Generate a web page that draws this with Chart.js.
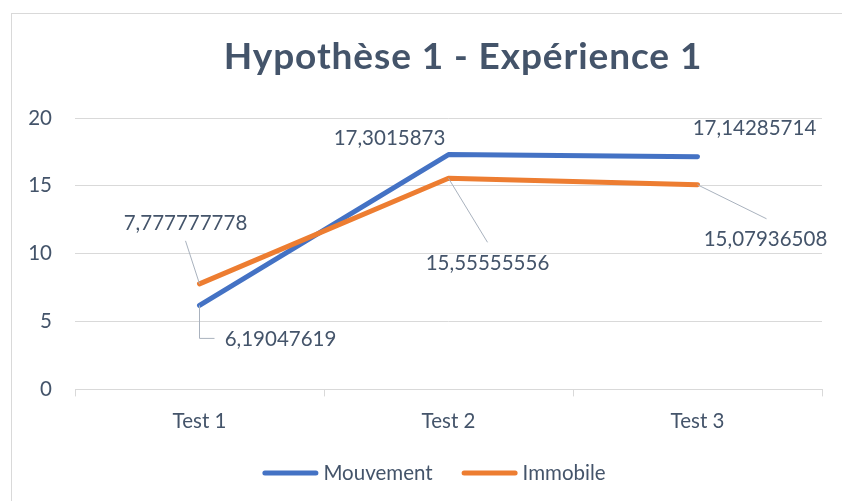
<!DOCTYPE html>
<html>
<head>
<meta charset="utf-8">
<script src="https://cdn.jsdelivr.net/npm/chart.js@4.4.0/dist/chart.umd.min.js"></script>
<style>
  html, body { margin: 0; padding: 0; background: #fff; }
  #wrap { width: 842px; height: 501px; }
</style>
</head>
<body>
<div id="wrap"><canvas id="chart" width="842" height="501"></canvas></div>
<script>
// data
const categories = ['Test 1', 'Test 2', 'Test 3'];
const seriesNames = ['Mouvement', 'Immobile'];
const mouvement = [6.19047619, 17.3015873, 17.14285714];
const immobile = [7.777777778, 15.55555556, 15.07936508];
const yTicks = [0, 5, 10, 15, 20];
const chartTitle = 'Hypothèse 1 - Expérience 1';

const seriesColors = ['#4472C4', '#ED7D31'];
const textColor = '#44546A';
const gridColor = '#D9D9D9';
const leaderColor = '#A9B2BE';
const fontFamily = 'Lato, "Noto Sans", sans-serif';
const labelSize = 20.5;

// where each data label sits relative to its point (px), plus optional leader line
const labelPlacement = [
    [
        { dx: 81, dy: 33, leader: [[0, 0], [0, 33], [15, 33]] },
        { dx: -59, dy: -17 },
        { dx: 57, dy: -29 }
    ],
    [
        { dx: -14, dy: -61, leader: [[0, 0], [-14, -43]] },
        { dx: 39, dy: 84, leader: [[0, 0], [39, 64]] },
        { dx: 68, dy: 54, leader: [[0, 0], [69, 34]] }
    ]
];

const fmt = v => String(v).replace('.', ',');

const decor = {
    id: 'decor',
    beforeDraw(chart) {
        const ctx = chart.ctx;
        ctx.save();
        ctx.fillStyle = '#fff';
        ctx.fillRect(0, 0, chart.width, chart.height);
        ctx.strokeStyle = gridColor;
        ctx.lineWidth = 1;
        ctx.strokeRect(11.5, 13.5, chart.width + 20, chart.height + 20);
        ctx.restore();
    },
    afterDatasetsDraw(chart) {
        const ctx = chart.ctx;
        ctx.save();
        ctx.font = labelSize + 'px ' + fontFamily;
        ctx.textAlign = 'center';
        ctx.textBaseline = 'alphabetic';
        chart.data.datasets.forEach((ds, di) => {
            const meta = chart.getDatasetMeta(di);
            meta.data.forEach((pt, i) => {
                const place = labelPlacement[di][i];
                if (place.leader) {
                    ctx.strokeStyle = leaderColor;
                    ctx.lineWidth = 1;
                    ctx.beginPath();
                    place.leader.forEach(([lx, ly], k) => {
                        if (k === 0) ctx.moveTo(pt.x + lx, pt.y + ly);
                        else ctx.lineTo(pt.x + lx, pt.y + ly);
                    });
                    ctx.stroke();
                }
                ctx.fillStyle = textColor;
                ctx.fillText(fmt(ds.data[i]), pt.x + place.dx, pt.y + place.dy + labelSize * 0.358);
            });
        });
        ctx.restore();
    },
    afterDraw(chart) {
        const ctx = chart.ctx;
        ctx.save();
        // title
        ctx.fillStyle = textColor;
        ctx.font = 'bold 37px ' + fontFamily;
        ctx.letterSpacing = '0.9px';
        ctx.textAlign = 'center';
        ctx.textBaseline = 'alphabetic';
        ctx.fillText(chartTitle, 463, 69);
        ctx.letterSpacing = '0px';

        // legend
        ctx.font = labelSize + 'px ' + fontFamily;
        ctx.textAlign = 'left';
        const lineLen = 56, gap = 5, itemGap = 29, ly = 473;
        const widths = seriesNames.map(n => lineLen + gap + ctx.measureText(n).width);
        const total = widths.reduce((a, b) => a + b, 0) + itemGap * (seriesNames.length - 1);
        let x = 434 - total / 2;
        seriesNames.forEach((name, i) => {
            ctx.strokeStyle = seriesColors[i];
            ctx.lineWidth = 5;
            ctx.lineCap = 'round';
            ctx.beginPath();
            ctx.moveTo(x + 2.5, ly);
            ctx.lineTo(x + lineLen - 2.5, ly);
            ctx.stroke();
            ctx.fillStyle = textColor;
            ctx.fillText(name, x + lineLen + gap, ly + labelSize * 0.358);
            x += widths[i] + itemGap;
        });
        ctx.restore();
    }
};

new Chart(document.getElementById('chart').getContext('2d'), {
    type: 'line',
    data: {
        labels: categories,
        datasets: [
            {
                label: seriesNames[0],
                data: mouvement,
                borderColor: seriesColors[0],
                backgroundColor: seriesColors[0],
                borderWidth: 5,
                order: 2
            },
            {
                label: seriesNames[1],
                data: immobile,
                borderColor: seriesColors[1],
                backgroundColor: seriesColors[1],
                borderWidth: 5,
                order: 1
            }
        ]
    },
    options: {
        responsive: false,
        animation: false,
        devicePixelRatio: 1,
        layout: { padding: { top: 118, right: 20, left: 0, bottom: 54 } },
        elements: {
            point: { radius: 0, hoverRadius: 0 },
            line: { tension: 0, borderCapStyle: 'round', borderJoinStyle: 'round', fill: false }
        },
        plugins: {
            legend: { display: false },
            title: { display: false },
            tooltip: { enabled: false }
        },
        scales: {
            x: {
                offset: true,
                grid: {
                    offset: true,
                    drawOnChartArea: false,
                    drawTicks: true,
                    tickLength: 7,
                    color: gridColor
                },
                border: { display: true, color: gridColor },
                ticks: {
                    color: textColor,
                    font: { family: fontFamily, size: labelSize },
                    padding: 13,
                    maxRotation: 0
                }
            },
            y: {
                min: yTicks[0],
                max: yTicks[yTicks.length - 1],
                afterBuildTicks: axis => { axis.ticks = yTicks.map(v => ({ value: v })); },
                afterFit: axis => { axis.width = 75; },
                grid: { color: gridColor, drawTicks: false },
                border: { display: false },
                ticks: {
                    color: textColor,
                    font: { family: fontFamily, size: labelSize },
                    padding: 23
                }
            }
        }
    },
    plugins: [decor]
});
</script>
</body>
</html>
